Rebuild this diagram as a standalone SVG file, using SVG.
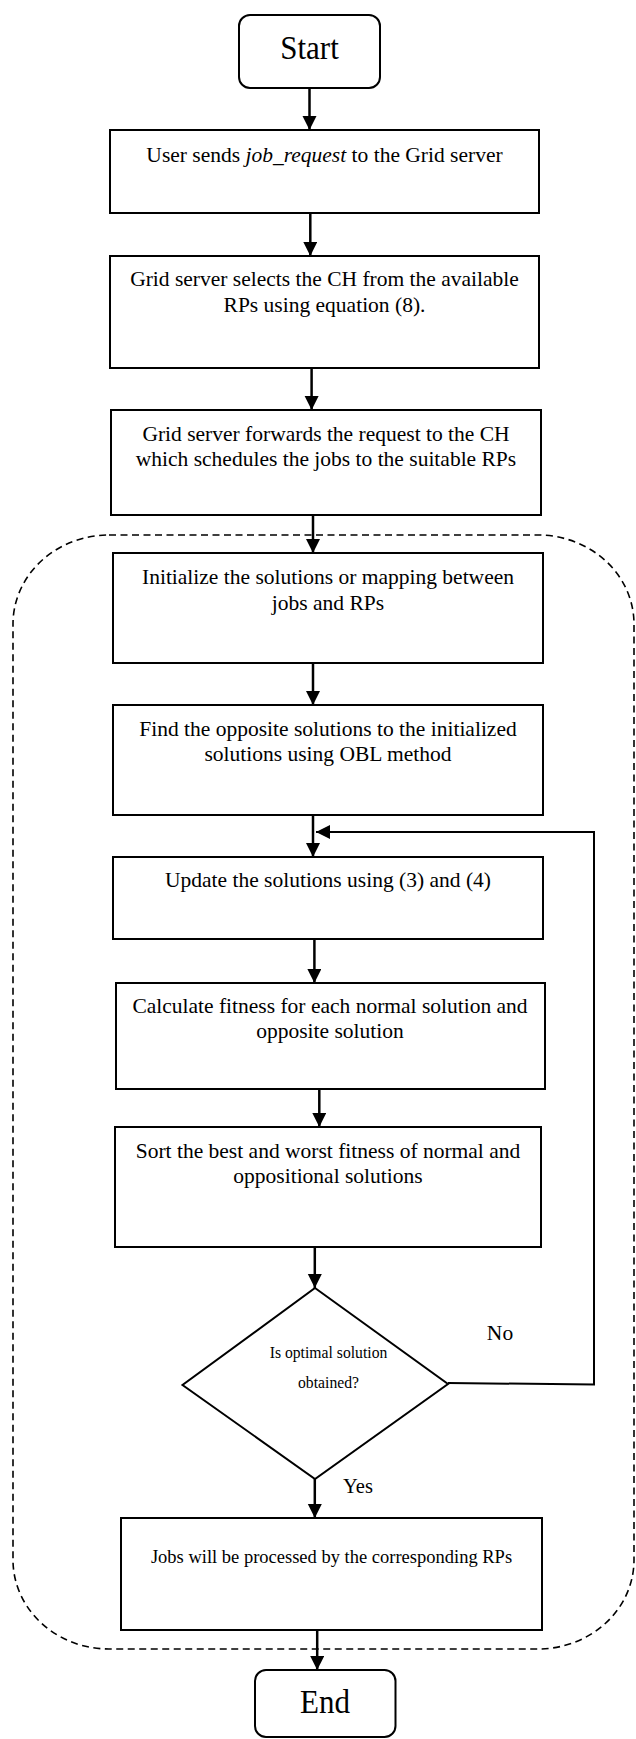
<svg xmlns="http://www.w3.org/2000/svg" width="636" height="1739" viewBox="0 0 636 1739">
  <style>
    .box { fill: #fff; stroke: #000; stroke-width: 2; }
    .term { fill: #fff; stroke: #000; stroke-width: 2; }
    .t { font-family: "Liberation Serif", "Times New Roman", serif; font-size: 21.5px; fill: #000; text-anchor: middle; }
    .big { font-size: 31px; }
    .small { font-size: 15.7px; }
    .mid { font-size: 18.5px; }
    .conn { fill: none; stroke: #000; stroke-width: 2.5; }
    .loop { fill: none; stroke: #000; stroke-width: 2; }
    .dash { fill: none; stroke: #000; stroke-width: 1.6; stroke-dasharray: 7 4.5; }
  </style>
  <defs>
    <marker id="ah" markerUnits="userSpaceOnUse" markerWidth="15" markerHeight="15" refX="14" refY="7" orient="auto">
      <path d="M0,0 L14,7 L0,14 z" fill="#000"/>
    </marker>
  </defs>
  <rect width="636" height="1739" fill="#fff"/>

  <g id="group-boundary">
    <rect class="dash" x="13" y="535" width="621" height="1114" rx="96" ry="89"/>
  </g>

  <g id="start">
    <rect class="term" x="239" y="15" width="141" height="73" rx="11"/>
    <text class="t big" transform="translate(309.5,58.5) scale(1,1.1)">Start</text>
  </g>

  <g id="n1">
    <rect class="box" x="110" y="130" width="429" height="83"/>
    <text class="t" x="324.5" y="162">User sends <tspan font-style="italic">job_request</tspan> to the Grid server</text>
  </g>

  <g id="n2">
    <rect class="box" x="110" y="256" width="429" height="112"/>
    <text class="t" x="324.5" y="286">Grid server selects the CH from the available</text>
    <text class="t" x="324.5" y="312">RPs using equation (8).</text>
  </g>

  <g id="n3">
    <rect class="box" x="111" y="410" width="430" height="105"/>
    <text class="t" x="326" y="440.5">Grid server forwards the request to the CH</text>
    <text class="t" x="326" y="465.5">which  schedules the jobs to the suitable RPs</text>
  </g>

  <g id="n4">
    <rect class="box" x="113" y="553" width="430" height="110"/>
    <text class="t" x="328" y="584">Initialize the solutions or mapping between</text>
    <text class="t" x="328" y="610">jobs and RPs</text>
  </g>

  <g id="n5">
    <rect class="box" x="113" y="705" width="430" height="110"/>
    <text class="t" x="328" y="736">Find the opposite solutions to the initialized</text>
    <text class="t" x="328" y="761">solutions using OBL method</text>
  </g>

  <g id="n6">
    <rect class="box" x="113" y="857" width="430" height="82"/>
    <text class="t" x="328" y="887">Update the solutions using (3) and (4)</text>
  </g>

  <g id="n7">
    <rect class="box" x="116" y="983" width="429" height="106"/>
    <text class="t" x="330" y="1013">Calculate fitness for each normal solution and</text>
    <text class="t" x="330" y="1038">opposite  solution</text>
  </g>

  <g id="n8">
    <rect class="box" x="115" y="1127" width="426" height="120"/>
    <text class="t" x="328" y="1158">Sort the best and worst fitness of normal and</text>
    <text class="t" x="328" y="1183">oppositional  solutions</text>
  </g>

  <g id="decision">
    <polygon class="box" points="315,1288 448,1384 315,1479 182.5,1385"/>
    <text class="t small" transform="translate(328.5,1358) scale(1,1.12)">Is optimal solution</text>
    <text class="t small" transform="translate(328.5,1388) scale(1,1.12)">obtained?</text>
  </g>

  <g id="n9">
    <rect class="box" x="121" y="1518" width="421" height="112"/>
    <text class="t mid" x="331.5" y="1563">Jobs will be processed by the corresponding RPs</text>
  </g>

  <g id="end">
    <rect class="term" x="255" y="1670" width="140.5" height="67" rx="11"/>
    <text class="t big" transform="translate(325,1713) scale(1,1.1)">End</text>
  </g>

  <g id="connectors">
    <line class="conn" x1="309.5" y1="88" x2="309.5" y2="130" marker-end="url(#ah)"/>
    <line class="conn" x1="310.3" y1="213" x2="310.3" y2="256" marker-end="url(#ah)"/>
    <line class="conn" x1="311.6" y1="368" x2="311.6" y2="410" marker-end="url(#ah)"/>
    <line class="conn" x1="313" y1="515" x2="313" y2="553" marker-end="url(#ah)"/>
    <line class="conn" x1="313" y1="663" x2="313" y2="705" marker-end="url(#ah)"/>
    <line class="conn" x1="313" y1="815" x2="313" y2="857" marker-end="url(#ah)"/>
    <line class="conn" x1="314.4" y1="939" x2="314.4" y2="983" marker-end="url(#ah)"/>
    <line class="conn" x1="319.3" y1="1089" x2="319.3" y2="1127" marker-end="url(#ah)"/>
    <line class="conn" x1="314.8" y1="1247" x2="314.8" y2="1288" marker-end="url(#ah)"/>
    <line class="conn" x1="314.8" y1="1479" x2="314.8" y2="1518" marker-end="url(#ah)"/>
    <line class="conn" x1="317.2" y1="1630" x2="317.2" y2="1670" marker-end="url(#ah)"/>
    <polyline class="loop" points="448,1383 594,1384.5 594,832 316,832" marker-end="url(#ah)"/>
    <text class="t" x="500" y="1340">No</text>
    <text class="t" x="358" y="1493" style="font-size:20.5px">Yes</text>
  </g>
</svg>
